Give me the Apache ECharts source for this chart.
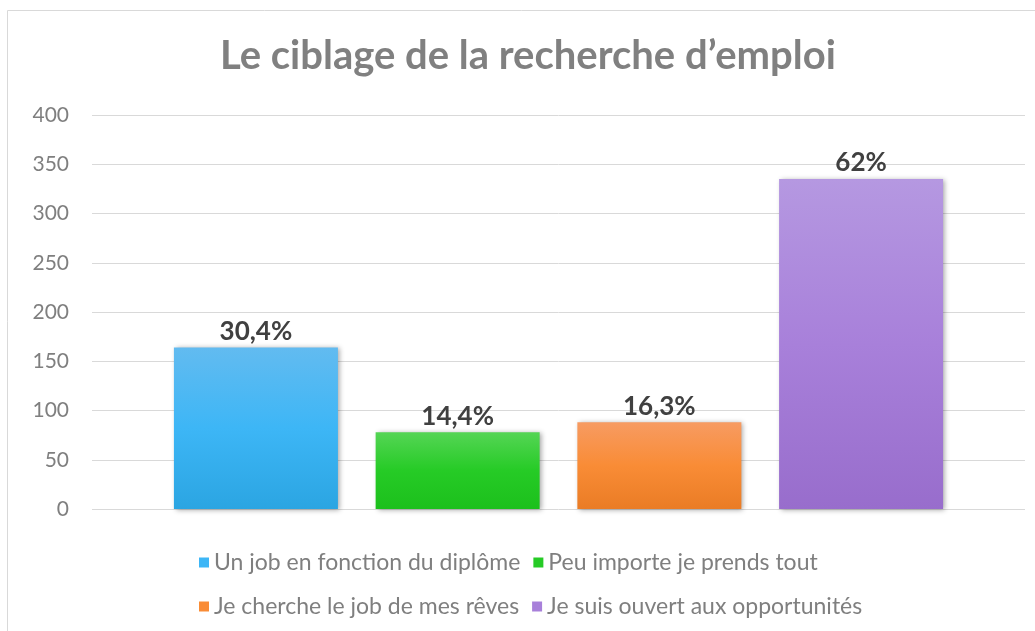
<!DOCTYPE html>
<html>
<head>
<meta charset="utf-8">
<script src="https://cdn.jsdelivr.net/npm/echarts@6/dist/echarts.min.js"></script>
<style>
  html, body { margin: 0; padding: 0; background: #ffffff; }
  #chart { width: 1035px; height: 631px; }
</style>
</head>
<body>
<div id="chart"></div>
<script>
// données
let seriesNames = ['Un job en fonction du diplôme', 'Peu importe je prends tout', 'Je cherche le job de mes rêves', 'Je suis ouvert aux opportunités']
let seriesValues = [164, 78, 88, 335]
let barLabels = ['30,4%', '14,4%', '16,3%', '62%']
let yTicks = [0, 50, 100, 150, 200, 250, 300, 350, 400]

// couleurs des barres (haut, milieu, bas) et de la légende
let barColors = [
  ['#62bbf0', '#3db6f6', '#2ba5e2'],
  ['#55d555', '#26cb26', '#1cc01c'],
  ['#f79b62', '#f98c36', '#ea7c25'],
  ['#b598e1', '#a880da', '#986dcc']
]

let font = 'Lato'

function gradient(c) {
  return new echarts.graphic.LinearGradient(0, 0, 0, 1, [
    {offset: 0, color: c[0]},
    {offset: 0.5, color: c[1]},
    {offset: 1, color: c[2]}
  ])
}

let chart = echarts.init(document.getElementById('chart'))

let series = seriesNames.map((name, i) => {
  return {
    name: name,
    type: 'bar',
    barWidth: 164,
    barGap: '23%',
    data: [seriesValues[i]],
    itemStyle: {
      color: gradient(barColors[i]),
      shadowColor: 'rgba(0,0,0,0.35)',
      shadowBlur: 5,
      shadowOffsetX: 2,
      shadowOffsetY: 1
    },
    label: {
      show: true,
      position: 'top',
      distance: 3,
      formatter: barLabels[i],
      fontFamily: font,
      fontSize: 26,
      fontWeight: 'bold',
      color: '#404040'
    }
  }
})

let option = {
  animation: false,
  graphic: [
    {
      type: 'rect',
      shape: {x: 7.5, y: 10.5, width: 1040, height: 640},
      style: {fill: 'none', stroke: '#d9d9d9', lineWidth: 1},
      silent: true
    }
  ],
  title: {
    text: 'Le ciblage de la recherche d’emploi',
    left: 215,
    top: 31,
    textStyle: {
      fontFamily: font,
      fontSize: 40,
      fontWeight: 'bold',
      color: '#808080'
    }
  },
  legend: {
    left: 194,
    top: 542,
    width: 720,
    itemWidth: 10,
    itemHeight: 10,
    itemGap: 13,
    icon: 'rect',
    data: seriesNames.map((n, i) => ({name: n, itemStyle: {color: barColors[i][1]}})),
    textStyle: {
      fontFamily: font,
      fontSize: 23,
      lineHeight: 31,
      color: '#7f7f7f'
    },
    itemStyle: {shadowBlur: 0}
  },
  grid: {
    left: 92,
    right: 10,
    top: 115,
    bottom: 122
  },
  xAxis: {
    type: 'category',
    data: [''],
    axisLine: {show: false},
    axisTick: {show: false},
    axisLabel: {show: false}
  },
  yAxis: {
    type: 'value',
    min: yTicks[0],
    max: yTicks[yTicks.length - 1],
    interval: 50,
    axisLine: {show: false},
    axisTick: {show: false},
    axisLabel: {
      margin: 23,
      fontFamily: font,
      fontSize: 21,
      color: '#7f7f7f'
    },
    splitLine: {lineStyle: {color: '#d9d9d9', width: 1}}
  },
  series: series
}

chart.setOption(option)
</script>
</body>
</html>
